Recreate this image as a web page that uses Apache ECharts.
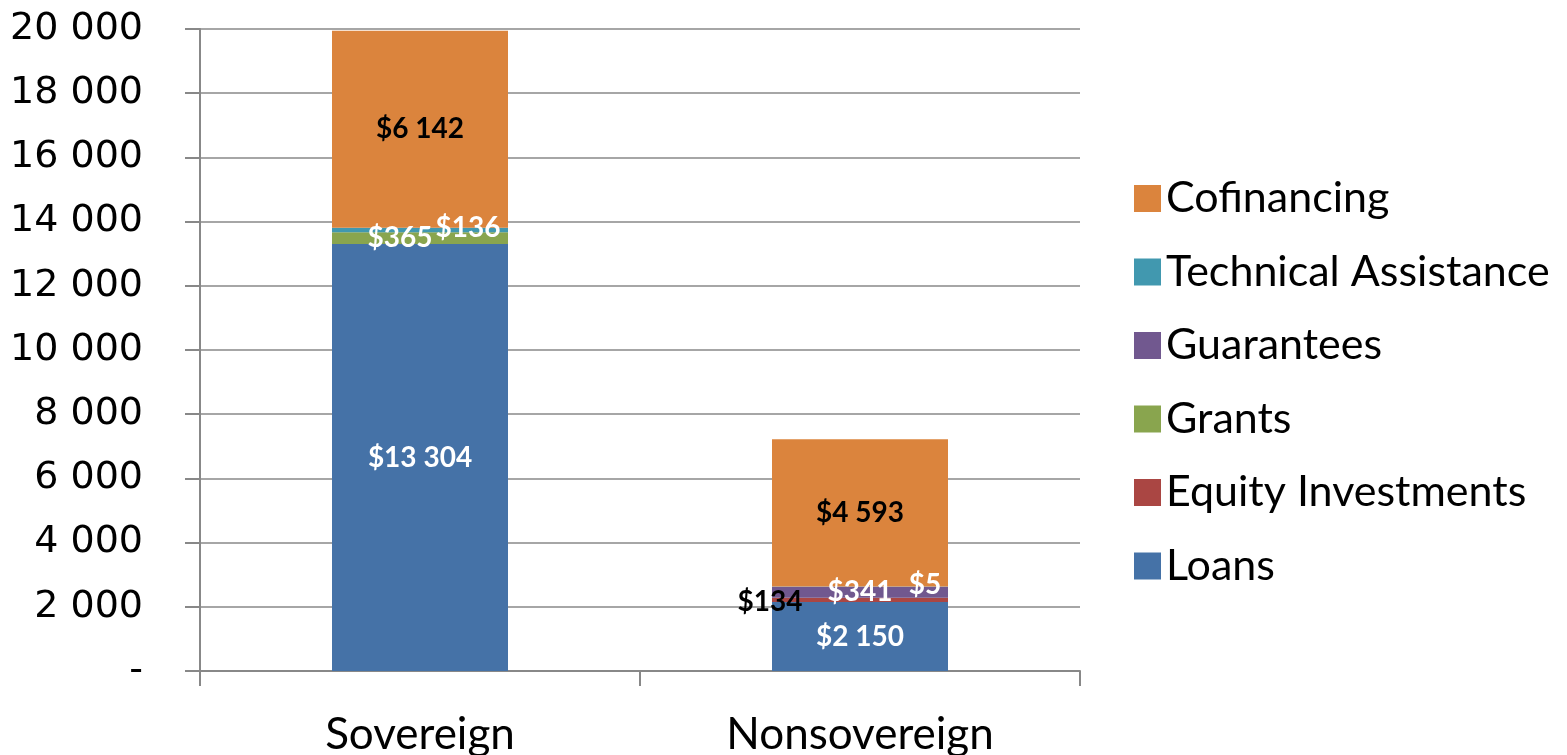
<!DOCTYPE html>
<html>
<head>
<meta charset="utf-8">
<script src="https://cdn.jsdelivr.net/npm/echarts@6/dist/echarts.min.js"></script>
<style>
html, body { margin: 0; padding: 0; background: #fff; }
#main { width: 1567px; height: 755px; }
</style>
</head>
<body>
<div id="main"></div>
<script>
var categories = ['Sovereign', 'Nonsovereign'];
var loans = [13304, 2150];
var equity = [0, 134];
var grants = [365, 0];
var guarantees = [0, 341];
var techAssist = [136, 5];
var cofinancing = [6142, 4593];
var legendOrder = ['Cofinancing', 'Technical Assistance', 'Guarantees', 'Grants', 'Equity Investments', 'Loans'];

var myChart = echarts.init(document.getElementById('main'));

function fmt(v) {
    return String(v).replace(/\B(?=(\d{3})+(?!\d))/g, ' ');
}

// label nudges so the thin segments don't overlap (index by category)
var nudges = {
    'Grants': [[-20, 0], null],
    'Technical Assistance': [[48, -2], [65, -2]],
    'Equity Investments': [null, [-90, 2]]
};

function makeSeries(name, values, color, labelColor) {
    return {
        name: name,
        type: 'bar',
        stack: 'total',
        barWidth: '40%',
        itemStyle: { color: color },
        label: {
            show: true,
            position: 'inside',
            color: labelColor,
            fontFamily: 'Lato',
            fontWeight: 'bold',
            fontSize: 28,
            formatter: function (p) { return p.value ? '$' + fmt(p.value) : ''; }
        },
        data: values.map(function (v, i) {
            var n = nudges[name] && nudges[name][i];
            var item = { value: v };
            if (n) item.label = { offset: n };
            return item;
        })
    };
}

option = {
    animation: false,
    grid: { left: 200, right: 487, top: 29, bottom: 84, outerBoundsMode: 'none' },
    legend: {
        orient: 'vertical',
        left: 1129,
        top: 172,
        itemWidth: 27,
        itemHeight: 27,
        itemGap: 30.5,
        icon: 'rect',
        data: legendOrder,
        textStyle: { fontFamily: 'Lato', fontSize: 43, color: '#000' }
    },
    xAxis: {
        type: 'category',
        data: categories,
        axisLine: { lineStyle: { color: '#888', width: 2 } },
        axisTick: { show: true, length: 15, lineStyle: { color: '#888', width: 2 } },
        axisLabel: { fontFamily: 'Lato', fontSize: 44, color: '#000', margin: 42 }
    },
    yAxis: {
        type: 'value',
        min: 0,
        max: 20000,
        interval: 2000,
        axisLine: { show: true, lineStyle: { color: '#888', width: 2 } },
        axisTick: { show: true, length: 15, lineStyle: { color: '#888', width: 2 } },
        splitLine: { lineStyle: { color: '#888', width: 1.5 } },
        axisLabel: {
            fontFamily: 'DejaVu Sans',
            fontSize: 38,
            color: '#000',
            margin: 57,
            formatter: function (v) { return v === 0 ? '-' : fmt(v); }
        }
    },
    series: [
        makeSeries('Loans', loans, '#4572A7', '#fff'),
        makeSeries('Equity Investments', equity, '#AA4643', '#000'),
        makeSeries('Grants', grants, '#89A54E', '#fff'),
        makeSeries('Guarantees', guarantees, '#71588F', '#fff'),
        makeSeries('Technical Assistance', techAssist, '#4198AF', '#fff'),
        makeSeries('Cofinancing', cofinancing, '#DB843D', '#000')
    ]
};
myChart.setOption(option);
</script>
</body>
</html>
